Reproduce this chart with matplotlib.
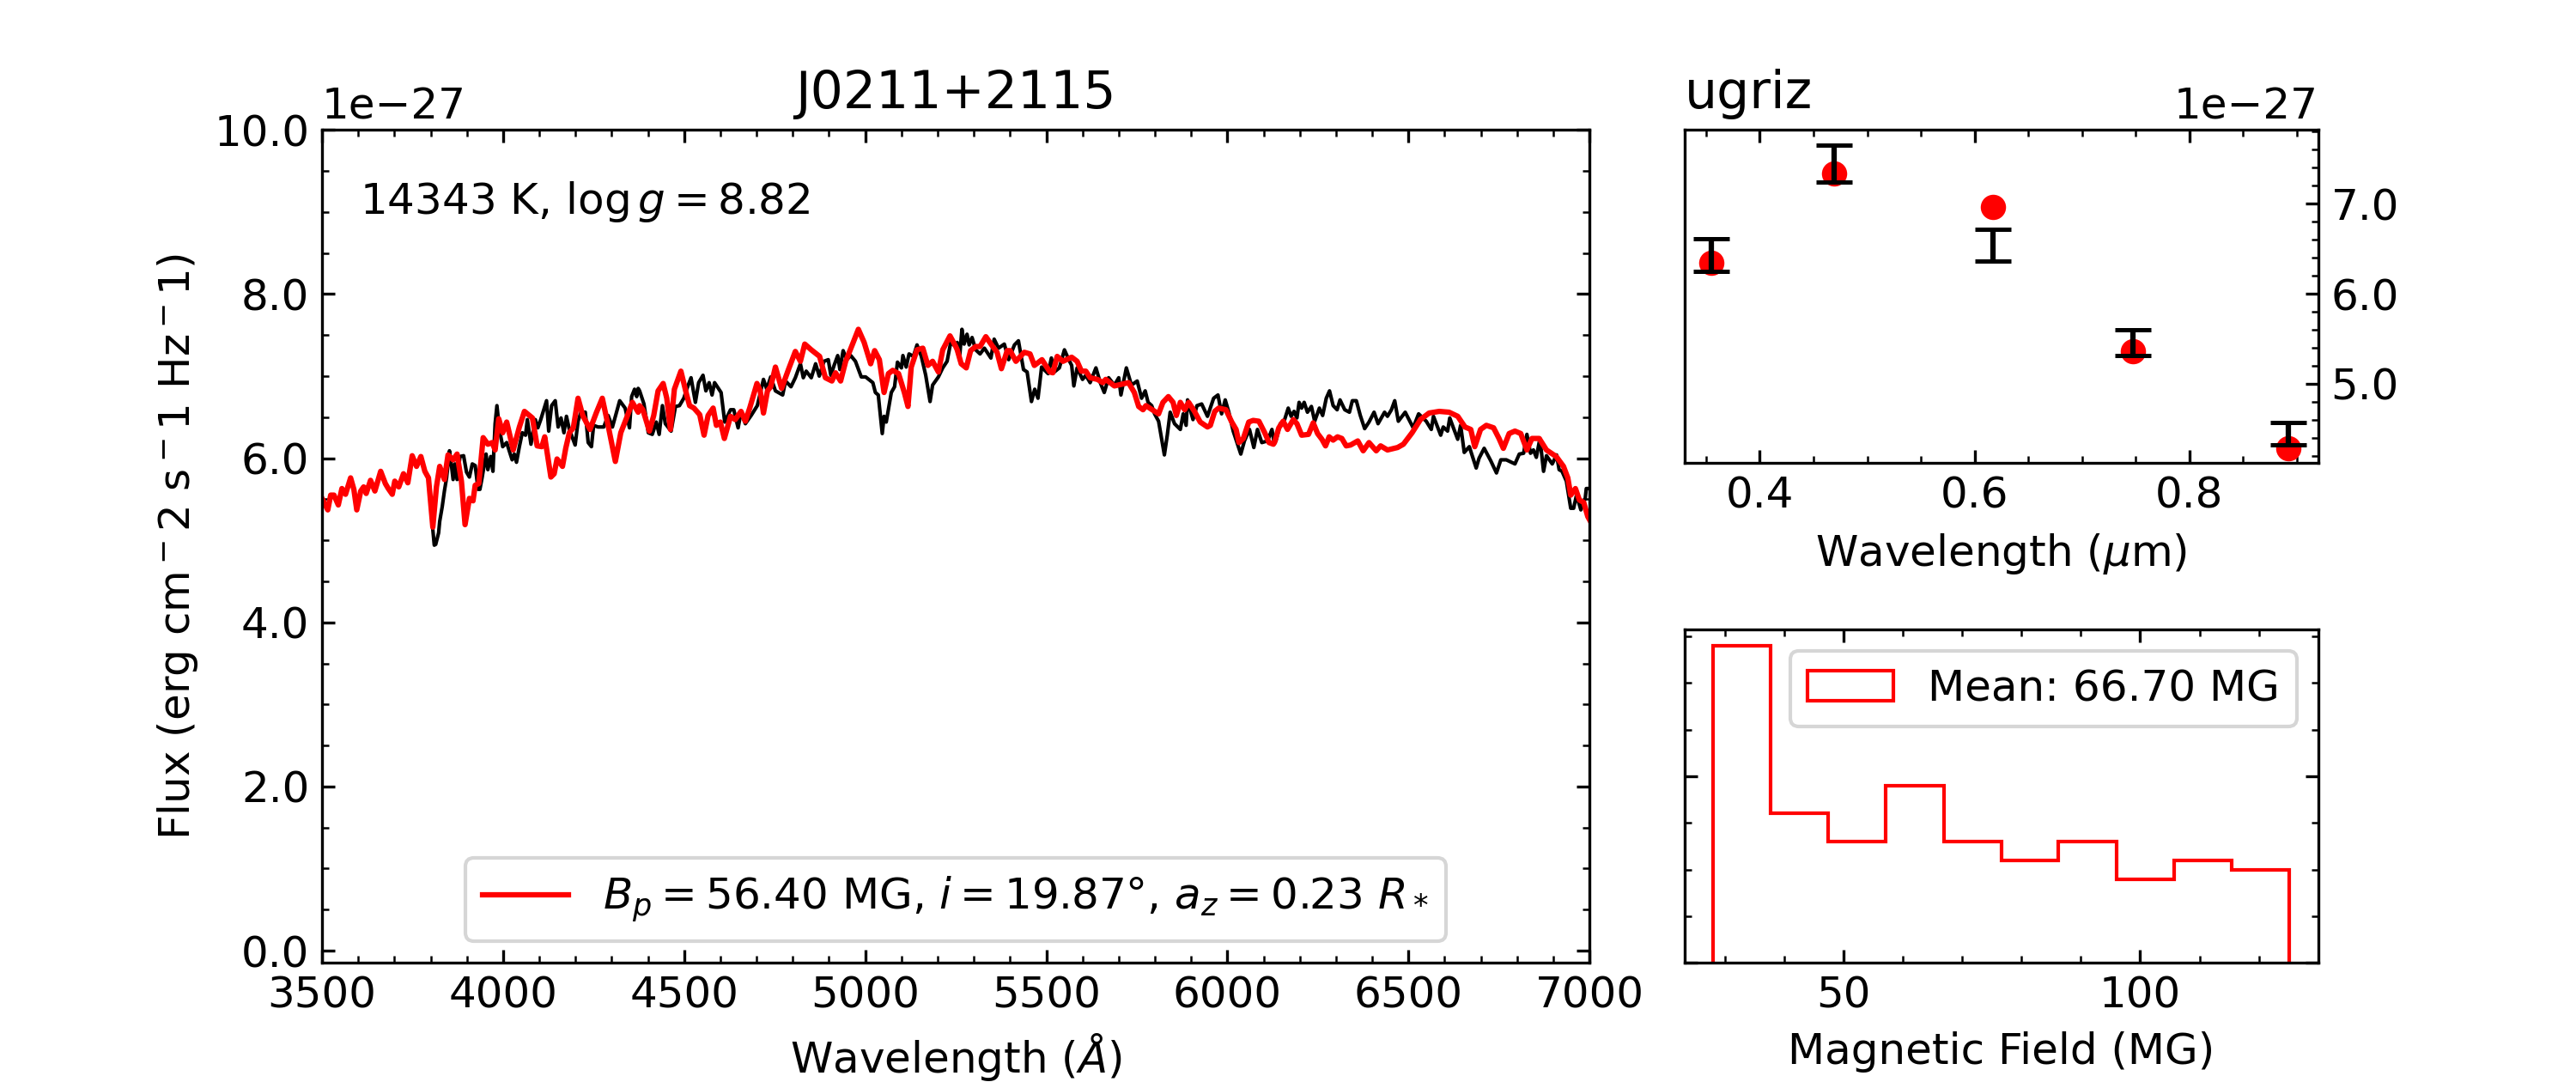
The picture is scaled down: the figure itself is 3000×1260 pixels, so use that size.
import matplotlib
matplotlib.use("Agg")
import matplotlib.pyplot as plt
from matplotlib.gridspec import GridSpec
from matplotlib.ticker import MultipleLocator, ScalarFormatter
import numpy as np

obs_wave = [3806, 3810, 3814, 3822, 3825, 3832, 3838, 3844, 3852, 3857, 3862, 3867, 3873, 3881, 3891, 3899, 3907, 3915,
            3923, 3931, 3936, 3942, 3953, 3958, 3966, 3972, 3978, 3983, 3990, 3999, 4010, 4017, 4025, 4031, 4037, 4045,
            4053, 4062, 4067, 4077, 4089, 4096, 4104, 4120, 4126, 4134, 4144, 4152, 4160, 4168, 4175, 4183, 4199, 4207,
            4215, 4227, 4235, 4244, 4250, 4262, 4278, 4290, 4302, 4314, 4322, 4337, 4349, 4355, 4363, 4369, 4373,
            4377, 4389, 4401, 4412, 4423, 4431, 4440, 4448, 4464, 4476, 4487, 4499, 4507, 4519, 4531, 4540, 4552, 4560,
            4569, 4577, 4584, 4602, 4612, 4628, 4637, 4649, 4657, 4669, 4685, 4702, 4719, 4728, 4739, 4752, 4772, 4780,
            4795, 4807, 4821, 4829, 4837, 4851, 4863, 4873, 4886, 4898, 4905, 4914, 4924, 4930, 4939, 4949, 4960, 4973,
            4989, 5001, 5021, 5028, 5036, 5047, 5052, 5058, 5072, 5081, 5089, 5100, 5104, 5113, 5121, 5133, 5143, 5155,
            5167, 5179, 5186, 5202, 5214, 5226, 5236, 5250,
            5254, 5260, 5267, 5273, 5281, 5287, 5295, 5305, 5317, 5329, 5347, 5356, 5368, 5384, 5396, 5412, 5423, 5437,
            5447, 5459, 5468, 5477, 5487, 5505, 5514, 5522, 5536, 5550, 5562, 5570, 5576, 5585, 5600, 5609, 5621, 5637,
            5649, 5660, 5672, 5688, 5700, 5706, 5721, 5735, 5751, 5763, 5773, 5781, 5791, 5799, 5810, 5826, 5834, 5842,
            5854, 5870, 5878, 5886, 5890, 5905, 5916, 5929, 5945, 5962, 5974, 5984, 5994, 6004, 6016, 6037, 6047, 6061,
            6073, 6083, 6095, 6111, 6123, 6129,
            6134, 6146, 6158, 6168, 6176, 6184, 6192, 6198, 6205, 6212, 6221, 6232, 6241, 6254, 6263, 6273, 6282, 6292,
            6303, 6311, 6324, 6337, 6345, 6356, 6367, 6379, 6391, 6405, 6416, 6434, 6442, 6453, 6462, 6472, 6491, 6513,
            6528, 6549, 6563, 6569, 6589, 6596, 6608, 6614, 6624, 6636, 6644, 6654, 6668, 6687, 6695, 6709, 6727, 6743,
            6755, 6770, 6794, 6806, 6818, 6827, 6837, 6845, 6853, 6863, 6873, 6881, 6897, 6909, 6916, 6924, 6936, 6948,
            6956, 6964, 6976, 6988, 6991, 6999]
obs_flux = [5.13, 4.94, 4.95, 5.09, 5.23, 5.41, 5.60, 5.76, 6.09, 5.93, 5.74, 5.93, 5.74, 6.02, 6.03, 5.83, 5.77, 5.93,
            5.91, 5.62, 5.62, 5.76, 6.05, 5.86, 6.02, 5.84, 6.42, 6.64, 6.35, 6.14, 6.19, 6.09, 5.98, 6.05, 5.95, 6.14,
            6.31, 6.28, 6.47, 6.17, 6.47, 6.37, 6.47, 6.70, 6.33, 6.64, 6.70, 6.38, 6.49, 6.31, 6.51, 6.35, 6.16, 6.45,
            6.56, 6.56, 6.19, 6.14, 6.40, 6.38, 6.38, 6.52, 6.38, 6.57, 6.70, 6.61, 6.37, 6.75, 6.84, 6.75, 6.85,
            6.82, 6.66, 6.31, 6.29, 6.44, 6.29, 6.64, 6.42, 6.33, 6.63, 6.64, 6.73, 6.84, 6.98, 6.68, 6.92, 7.01, 6.82,
            6.92, 6.77, 6.92, 6.80, 6.44, 6.59, 6.59, 6.37, 6.56, 6.42, 6.52, 6.64, 6.96, 6.84, 6.99, 6.82, 6.77, 6.94,
            6.87, 6.98, 7.15, 6.98, 7.06, 6.98, 7.15, 7.00, 7.18, 7.20, 7.01, 7.13, 7.25, 7.08, 7.31, 7.20, 7.25, 7.18,
            6.99, 6.99, 6.92, 6.80, 6.77, 6.30, 6.51, 6.44, 6.80, 6.87, 7.17, 7.10, 7.25, 7.11, 7.27, 7.24, 7.38, 7.24,
            7.01, 6.69, 6.89, 6.99, 7.10, 7.18, 7.41, 7.36,
            7.41, 7.20, 7.57, 7.39, 7.51, 7.38, 7.47, 7.32, 7.27, 7.34, 7.22, 7.45, 7.34, 7.39, 7.20, 7.38, 7.43, 7.08,
            7.05, 6.69, 6.84, 6.73, 7.11, 7.03, 7.22, 7.05, 7.10, 7.32, 7.20, 7.13, 6.88, 7.10, 6.96, 7.01, 6.92, 7.10,
            6.92, 6.80, 6.98, 6.89, 6.98, 6.77, 7.10, 6.89, 6.94, 6.73, 6.82, 6.68, 6.64, 6.54, 6.45, 6.04, 6.28, 6.56,
            6.42, 6.35, 6.54, 6.40, 6.71, 6.47, 6.64, 6.66, 6.51, 6.73, 6.77, 6.54, 6.71, 6.56, 6.33, 6.05, 6.21, 6.35,
            6.13, 6.35, 6.19, 6.21, 6.35, 6.19,
            6.21, 6.42, 6.47, 6.61, 6.51, 6.57, 6.49, 6.68, 6.61, 6.68, 6.56, 6.63, 6.45, 6.61, 6.52, 6.73, 6.82, 6.64,
            6.59, 6.71, 6.59, 6.56, 6.70, 6.70, 6.52, 6.36, 6.44, 6.56, 6.42, 6.56, 6.51, 6.59, 6.70, 6.45, 6.56, 6.37,
            6.54, 6.45, 6.35, 6.51, 6.28, 6.38, 6.33, 6.49, 6.37, 6.23, 6.40, 6.07, 6.14, 5.88, 6.00, 6.12, 5.97, 5.82,
            5.98, 5.98, 5.93, 6.05, 6.06, 6.29, 6.06, 6.10, 6.01, 6.24, 5.84, 6.03, 5.93, 6.04, 5.86, 5.84, 5.72, 5.39,
            5.39, 5.55, 5.37, 5.51, 5.63, 5.63]

# model spectrum
model_wave = [3500, 3508, 3516, 3524, 3533, 3545, 3555, 3565, 3579, 3588, 3596, 3607, 3615, 3622, 3634, 3646, 3662, 3675,
              3683, 3694, 3701, 3712, 3725, 3737, 3749, 3761, 3773, 3784, 3794, 3806, 3816, 3825, 3838, 3848, 3862, 3873,
              3885, 3895, 3907, 3917, 3923, 3933, 3945, 3958, 3970, 3978, 3988, 3999, 4010, 4017, 4028, 4045, 4059, 4081,
              4094, 4107, 4115, 4124, 4132, 4141, 4149, 4164, 4173, 4183, 4194, 4207, 4220, 4240, 4258, 4274, 4290, 4310,
              4325, 4341, 4357, 4373,
              4377, 4386, 4404, 4416, 4428, 4442, 4452, 4462, 4473, 4491, 4507, 4515, 4527, 4543, 4555, 4566, 4580, 4589,
              4600, 4611, 4628, 4641, 4657, 4669, 4681, 4701, 4710, 4719, 4730, 4739, 4752, 4769, 4788, 4807, 4821, 4833,
              4851, 4874, 4890, 4908, 4918, 4932, 4946, 4965, 4981, 4997, 5015, 5026, 5039, 5052, 5064, 5076, 5092, 5108,
              5118, 5127, 5143, 5159, 5173, 5186, 5202, 5214, 5234, 5250,
              5254, 5265, 5279, 5291, 5305, 5317, 5333, 5352, 5364, 5376, 5392, 5400, 5416, 5439, 5455, 5467, 5488, 5510,
              5518, 5530, 5546, 5570, 5585, 5597, 5609, 5621, 5641, 5656, 5664, 5688, 5727, 5743, 5755, 5767, 5775, 5810,
              5822, 5837, 5850, 5859, 5870, 5882, 5893, 5909, 5925, 5945, 5953, 5965, 5976, 5996, 6012, 6024, 6032, 6044,
              6059, 6071, 6087, 6103, 6115, 6127,
              6130, 6142, 6154, 6166, 6182, 6192, 6205, 6224, 6237, 6249, 6261, 6271, 6281, 6292, 6304, 6316, 6328, 6340,
              6360, 6375, 6391, 6411, 6423, 6442, 6470, 6486, 6510, 6533, 6557, 6585, 6612, 6636, 6656, 6672, 6683, 6699,
              6715, 6735, 6750, 6762, 6778, 6794, 6810, 6827, 6841, 6861, 6881, 6908, 6928, 6940, 6948, 6961, 6972, 6984,
              6995, 7000]
model_flux = [5.51, 5.44, 5.37, 5.55, 5.55, 5.43, 5.63, 5.56, 5.76, 5.62, 5.37, 5.60, 5.65, 5.57, 5.73, 5.60, 5.84, 5.69,
              5.63, 5.56, 5.72, 5.65, 5.81, 5.70, 6.03, 5.90, 6.02, 5.84, 5.76, 5.16, 5.65, 5.90, 5.74, 6.04, 5.98, 6.05,
              5.72, 5.19, 5.51, 5.48, 5.67, 5.69, 6.25, 6.17, 6.19, 6.10, 6.48, 6.31, 6.44, 6.31, 6.10, 6.38, 6.57, 6.49,
              6.15, 6.14, 6.26, 6.00, 5.77, 5.81, 5.99, 5.90, 6.12, 6.31, 6.37, 6.73, 6.52, 6.35, 6.56, 6.73, 6.40, 5.96,
              6.31, 6.49, 6.68, 6.56,
              6.64, 6.59, 6.33, 6.52, 6.82, 6.91, 6.73, 6.35, 6.84, 7.06, 6.77, 6.64, 6.61, 6.53, 6.28, 6.52, 6.61, 6.40,
              6.44, 6.24, 6.51, 6.47, 6.57, 6.45, 6.61, 6.91, 6.82, 6.55, 6.82, 6.87, 7.11, 6.85, 7.08, 7.30, 7.18, 7.39,
              7.32, 7.24, 6.98, 6.94, 7.04, 6.94, 7.18, 7.39, 7.57, 7.41, 7.15, 7.31, 7.20, 6.80, 7.03, 7.07, 7.03, 6.80,
              6.63, 7.11, 7.32, 7.34, 7.13, 7.18, 7.05, 7.32, 7.49, 7.36,
              7.32, 7.15, 7.10, 7.31, 7.36, 7.36, 7.48, 7.36, 7.29, 7.09, 7.31, 7.31, 7.18, 7.29, 7.27, 7.13, 7.20, 7.05,
              7.04, 7.24, 7.18, 7.23, 7.18, 7.06, 7.06, 6.98, 6.96, 6.92, 6.96, 6.88, 6.92, 6.80, 6.63, 6.59, 6.64, 6.54,
              6.68, 6.75, 6.68, 6.52, 6.68, 6.59, 6.68, 6.57, 6.44, 6.38, 6.40, 6.57, 6.61, 6.59, 6.44, 6.35, 6.19, 6.24,
              6.44, 6.46, 6.45, 6.31, 6.19, 6.17,
              6.19, 6.37, 6.45, 6.35, 6.47, 6.42, 6.28, 6.29, 6.43, 6.30, 6.23, 6.15, 6.26, 6.22, 6.26, 6.24, 6.15, 6.16,
              6.21, 6.09, 6.19, 6.09, 6.15, 6.10, 6.13, 6.17, 6.31, 6.47, 6.55, 6.57, 6.56, 6.51, 6.38, 6.35, 6.14, 6.35,
              6.40, 6.37, 6.24, 6.12, 6.30, 6.33, 6.30, 6.10, 6.24, 6.24, 6.10, 6.02, 5.90, 5.76, 5.55, 5.63, 5.49, 5.46,
              5.29, 5.25]

# ugriz photometry
band_wave = [0.355, 0.469, 0.617, 0.747, 0.892]
band_low = [6.25, 7.24, 6.36, 5.31, 4.32]
band_high = [6.61, 7.65, 6.72, 5.60, 4.57]
band_model = [6.34, 7.34, 6.96, 5.36, 4.285]

# magnetic field histogram
field_edges = [28.0, 37.7, 47.4, 57.1, 66.9, 76.6, 86.2, 96.0, 105.7, 115.5, 125.2]
field_counts = [34, 16, 13, 19, 13, 11, 13, 9, 11, 10]


class OneDecimal(ScalarFormatter):
    def _set_format(self):
        self.format = '%.1f'


def flux_formatter():
    # keep the 1e-27 offset on both flux axes
    formatter = OneDecimal()
    formatter.set_powerlimits((-27, -27))
    return formatter


def style_axis(ax):
    ax.tick_params(which='both', direction='in', top=True, right=True)


unit = 1e-27
obs_wave = np.array(obs_wave)
obs_flux = np.array(obs_flux) * unit
model_wave = np.array(model_wave)
model_flux = np.array(model_flux) * unit
band_wave = np.array(band_wave)
band_low = np.array(band_low) * unit
band_high = np.array(band_high) * unit
band_model = np.array(band_model) * unit

fig = plt.figure(figsize=(10, 4.2), dpi=300)
gs = GridSpec(2, 2, figure=fig, width_ratios=[2, 1], wspace=0.1, hspace=0.5)

# main spectrum panel
ax1 = fig.add_subplot(gs[:, 0])
ax1.plot(obs_wave, obs_flux, color='k', lw=1)
ax1.plot(model_wave, model_flux, color='r', lw=1.5,
         label=r'$B_p = 56.40$ MG, $i = 19.87\degree$, $a_z = 0.23\ R_*$')
ax1.set_xlim(3500, 7000)
ax1.set_ylim(-0.15e-27, 10e-27)
ax1.xaxis.set_major_locator(MultipleLocator(500))
ax1.xaxis.set_minor_locator(MultipleLocator(100))
ax1.yaxis.set_major_locator(MultipleLocator(2e-27))
ax1.yaxis.set_minor_locator(MultipleLocator(0.5e-27))
ax1.yaxis.set_major_formatter(flux_formatter())
style_axis(ax1)
ax1.tick_params(labelsize=12)
ax1.yaxis.get_offset_text().set_fontsize(12)
ax1.set_xlabel(r'Wavelength ($\AA$)', fontsize=12)
ax1.set_ylabel(r'Flux (erg cm$^-$2 s$^-$1 Hz$^-$1)', fontsize=12)
ax1.set_title('J0211+2115', fontsize=14.4)
ax1.text(0.03, 0.899, r'14343 K, $\log g = 8.82$', transform=ax1.transAxes, fontsize=12)
ax1.legend(loc='lower center', fontsize=12)

# photometry panel
ax2 = fig.add_subplot(gs[0, 1])
ax2.scatter(band_wave, band_model, color='r', s=50, linewidths=0, zorder=2)
band_mid = (band_low + band_high) / 2
ax2.errorbar(band_wave, band_mid, yerr=(band_high - band_low) / 2, fmt='none', ecolor='k', capsize=5,
             elinewidth=1.5, capthick=1.2, zorder=3)
ax2.set_xlim(0.33, 0.92)
ax2.set_ylim(4.12e-27, 7.82e-27)
ax2.xaxis.set_major_locator(MultipleLocator(0.2))
ax2.xaxis.set_minor_locator(MultipleLocator(0.05))
ax2.yaxis.set_major_locator(MultipleLocator(1e-27))
ax2.yaxis.set_minor_locator(MultipleLocator(0.2e-27))
ax2.yaxis.set_major_formatter(flux_formatter())
ax2.yaxis.tick_right()
style_axis(ax2)
ax2.tick_params(labelsize=12)
ax2.yaxis.get_offset_text().set_fontsize(12)
ax2.set_xlabel(r'Wavelength ($\mu$m)', fontsize=12)
ax2.set_title('ugriz', loc='left', fontsize=14.4)

# field histogram panel
ax3 = fig.add_subplot(gs[1, 1])
ax3.hist(field_edges[:-1], bins=field_edges, weights=field_counts, histtype='step', color='r', lw=1,
         label='Mean: 66.70 MG')
ax3.xaxis.set_major_locator(MultipleLocator(50))
ax3.xaxis.set_minor_locator(MultipleLocator(10))
ax3.yaxis.set_major_locator(MultipleLocator(20))
ax3.yaxis.set_minor_locator(MultipleLocator(5))
style_axis(ax3)
ax3.tick_params(labelsize=12, labelleft=False)
ax3.set_xlabel('Magnetic Field (MG)', fontsize=12)
ax3.legend(loc='upper right', fontsize=12)

fig.savefig('out.png', dpi=300)
